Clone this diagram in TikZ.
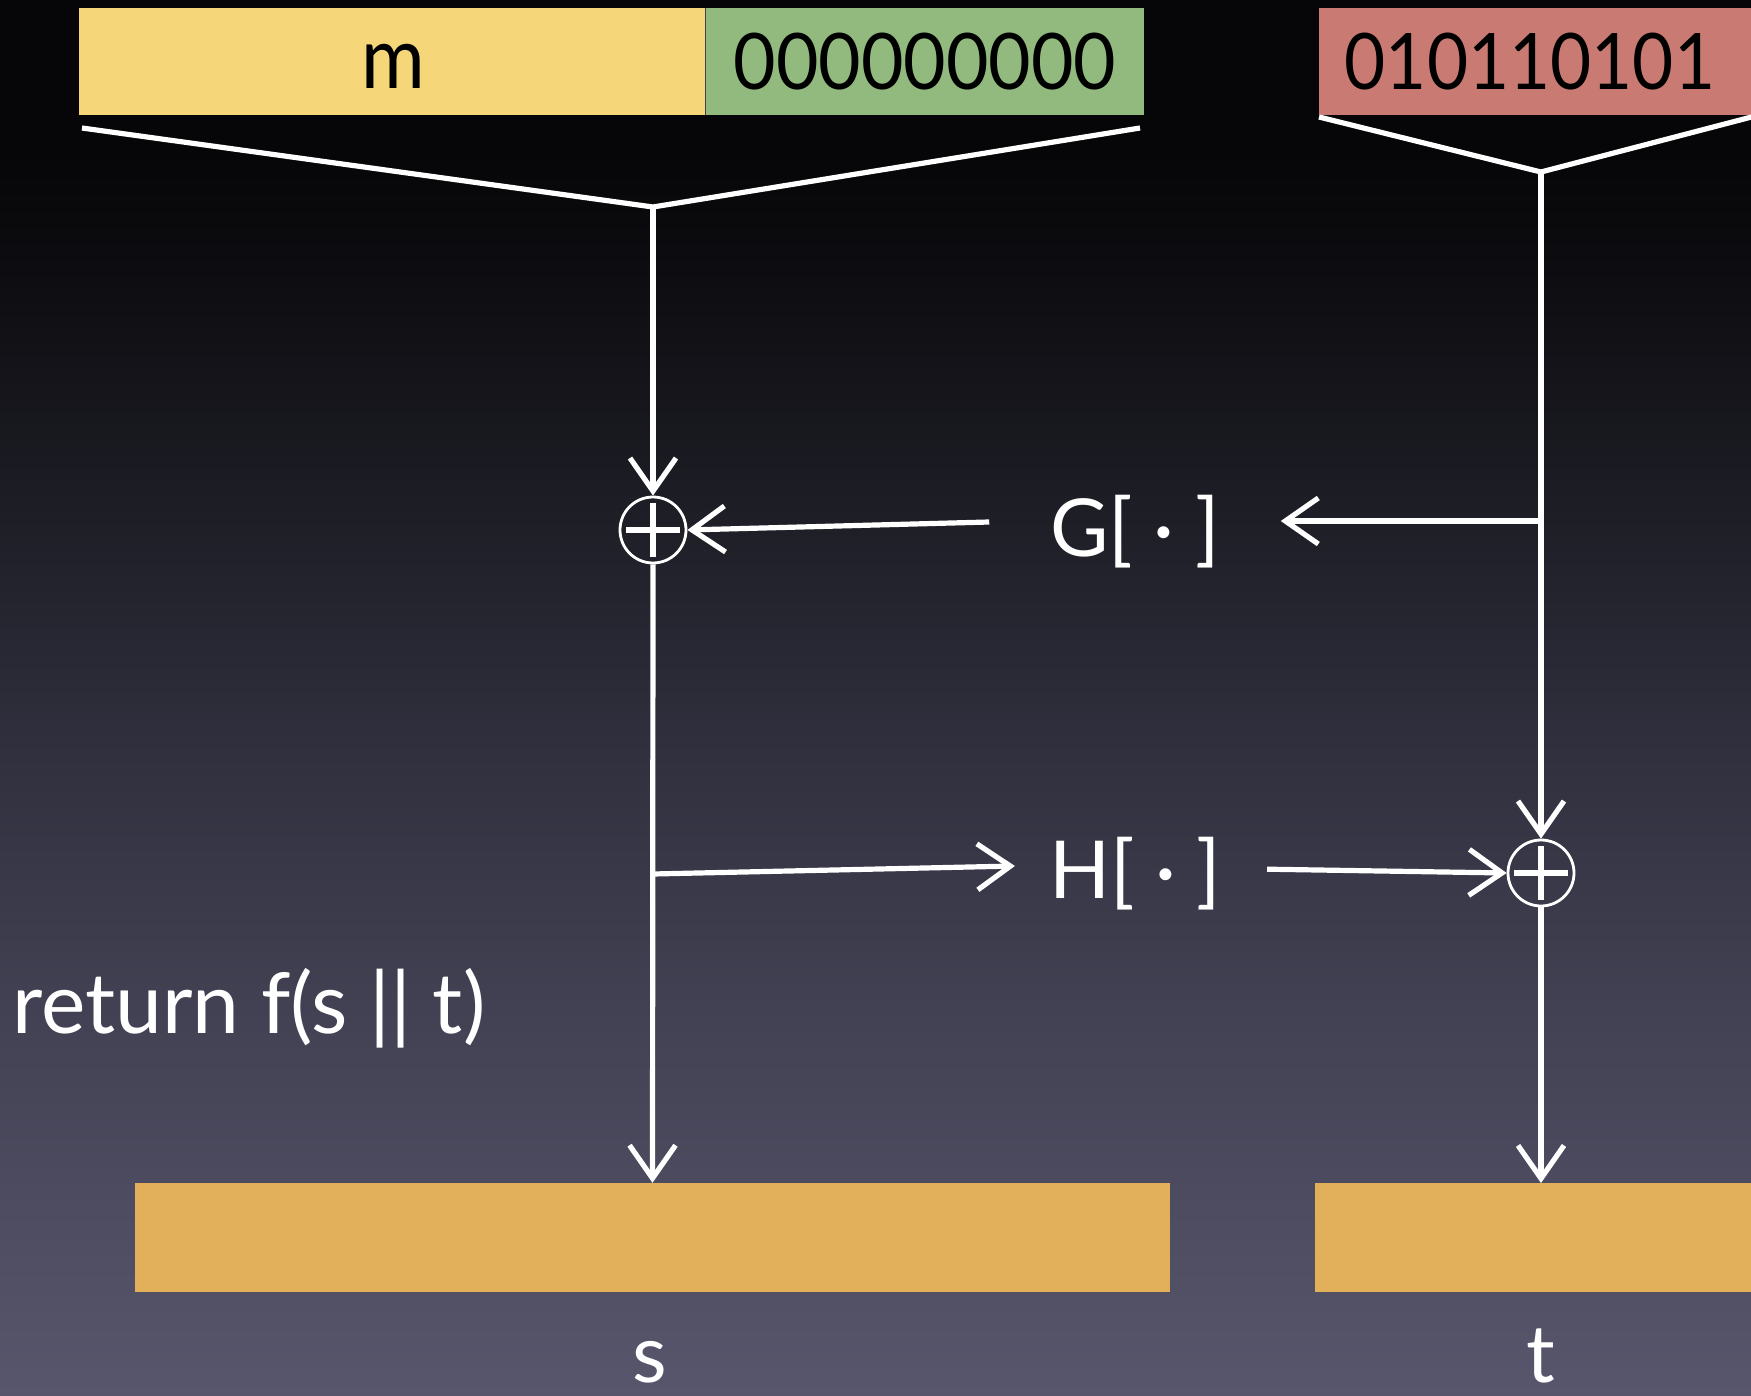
\documentclass[tikz,border=0pt]{standalone}
\usepackage{fontspec}
\usepackage{graphicx}
\setmainfont{Lato}
\usetikzlibrary{arrows.meta}

\definecolor{bgA}{RGB}{88,86,108}
\definecolor{bgB}{RGB}{66,65,83}
\definecolor{bgC}{RGB}{46,46,60}
\definecolor{bgD}{RGB}{31,31,40}
\definecolor{bgE}{RGB}{17,17,22}
\definecolor{bgF}{RGB}{6,6,8}
\definecolor{msgyellow}{RGB}{245,215,122}
\definecolor{padgreen}{RGB}{146,186,126}
\definecolor{randred}{RGB}{201,123,115}
\definecolor{outorange}{RGB}{226,175,90}

% backdrop: dark at the top, greyish violet at the bottom
\pgfdeclareverticalshading{backdrop}{100bp}{%
  color(0bp)=(bgA); color(25bp)=(bgA); color(39bp)=(bgB); color(49bp)=(bgC);
  color(56bp)=(bgD); color(63bp)=(bgE); color(69.5bp)=(bgF); color(75bp)=(bgF);
  color(100bp)=(bgF)}

\begin{document}
\begin{tikzpicture}[x=1pt,y=-1pt,
  wire/.style={draw=white, line width=5.2pt},
  arr/.style={wire, -{Straight Barb[length=33pt,width=46pt]}},
  field/.style={rectangle, inner sep=0pt, text=black},
  bigdigits/.style={text=black, font=\fontsize{78}{90}\selectfont},
  lab/.style={text=white, inner sep=0pt, font=\fontsize{80}{92}\selectfont},
  xorop/.style={circle, draw=white, line width=2.8pt, minimum size=66pt, inner sep=0pt},
  plusbar/.style={draw=white, line width=5.5pt},
]
\clip (0,0) rectangle (1751,1396);
\shade[shading=backdrop] (0,0) rectangle (1751,1396);

% input fields
\node[field, fill=msgyellow, minimum width=627pt, minimum height=107pt] (msg) at (392.5,61.5) {};
\node[text=black, inner sep=0pt, font=\fontsize{86}{96}\selectfont, anchor=base] (msgtext) at (393,89) {\scalebox{0.9}[1]{m}};
\node[field, fill=padgreen, minimum width=438pt, minimum height=107pt, bigdigits] (pad) at (925,61.5)
      {\scalebox{0.94}[1]{000000000}};
\draw[black!75, line width=1.2pt] (pad.north west) -- (pad.south west);
\node[field, fill=randred, minimum width=460pt, minimum height=107pt, anchor=north west] (rand) at (1319,8) {};
\node[bigdigits, inner sep=0pt] (randbits) at (1530,61.5) {\scalebox{0.91}[1]{010110101}};

% funnels under the inputs
\coordinate (msgL) at (82,128);
\coordinate (apex1) at (653,207);
\coordinate (padR) at (1140,128);
\coordinate (randL) at (1319,117);
\coordinate (apex2) at (1541,172);
\coordinate (randR) at (1763,114);
\draw[wire] (msgL) -- (apex1) -- (padR);
\draw[wire] (randL) -- (apex2) -- (randR);

% xor nodes
\node[xorop] (xor1) at (653,530) {};
\node[xorop] (xor2) at (1541,873) {};
\foreach \x in {xor1,xor2}{
  \draw[plusbar] ([xshift=-27pt]\x.center) -- ([xshift=27pt]\x.center)
                 ([yshift=-27pt]\x.center) -- ([yshift=27pt]\x.center);
}

% hash functions
\node[lab, inner xsep=61pt] (Glab) at (1135,532) {G[ · ]};
\node[lab, inner xsep=34pt] (Hlab) at (1135,874) {H[ · ]};

% outputs
\node[field, fill=outorange, minimum width=1035pt, minimum height=109pt] (sbox) at (652.5,1237.5) {};
\node[field, fill=outorange, minimum width=460pt, minimum height=109pt, anchor=north west] (tbox) at (1315,1183) {};
\node[lab, anchor=base] (slab) at (650,1382) {s};
\node[lab, anchor=base] (tlab) at (1541,1382) {t};
\node[lab, anchor=base west, font=\fontsize{84}{96}\selectfont] (ret) at (12,1033) {return f(s || t)};

% connectors
\coordinate (brG) at (1541,521);
\coordinate (brH) at (653,874);
\draw[arr] (apex1) -- (xor1.north);
\draw[arr] (apex2) -- (xor2.north);
\draw[arr] ([yshift=10pt]Glab.west) -- (xor1.east);
\draw[arr] (brG) -- ([yshift=11pt]Glab.east);
\draw[arr] (brH) -- ([yshift=8pt]Hlab.west);
\draw[arr, shorten <=12pt] ([yshift=5pt]Hlab.east) -- (xor2.west);
\draw[arr] (xor1.south) -- (sbox.north);
\draw[arr] (xor2.south) -- (xor2.south |- tbox.north);
\end{tikzpicture}
\end{document}
